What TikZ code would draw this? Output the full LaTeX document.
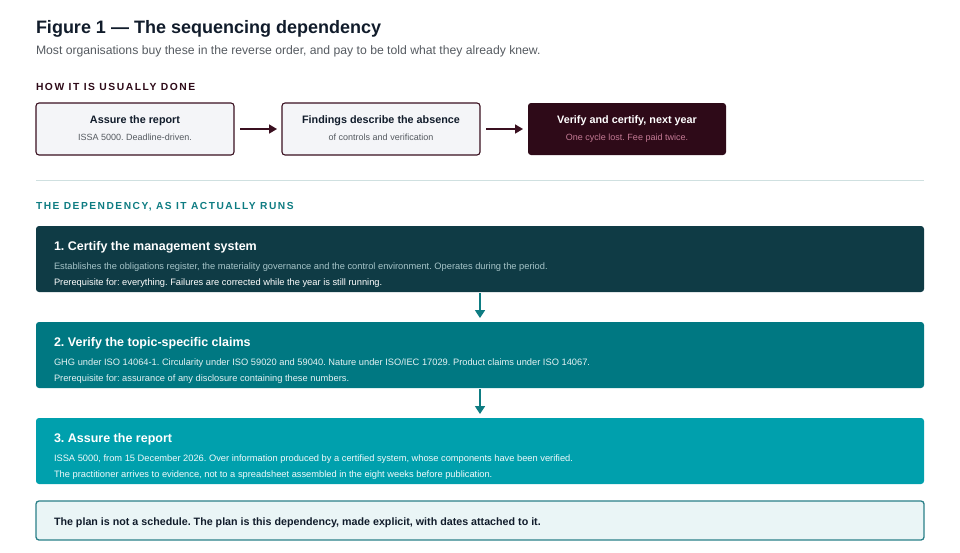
\documentclass[tikz,border=0pt]{standalone}
\usepackage{fontspec}
\setmainfont{Liberation Sans}
\newfontfamily\spacedfont[LetterSpace=15]{Liberation Sans}
\usetikzlibrary{arrows.meta}
\frenchspacing
\definecolor{ink}{HTML}{111C2B}
\definecolor{subgray}{HTML}{555A60}
\definecolor{maroon}{HTML}{2E0A18}
\definecolor{maroonline}{HTML}{3A1020}
\definecolor{pinktext}{HTML}{C47A95}
\definecolor{tealhead}{HTML}{0E7C82}
\definecolor{fillA}{HTML}{0F3B45}
\definecolor{fillB}{HTML}{007882}
\definecolor{fillC}{HTML}{00A0AD}
\definecolor{fillD}{HTML}{EAF5F6}
\definecolor{borderD}{HTML}{2A8088}
\definecolor{sepline}{HTML}{CFE0E0}
\definecolor{lightbox}{HTML}{F4F5F8}
\definecolor{lineA}{HTML}{A6C4C8}
\definecolor{lineB}{HTML}{E4F2F3}
\definecolor{lineC}{HTML}{F0FAFB}
\definecolor{boxsub}{HTML}{555A60}
\tikzset{
  txt/.style={anchor=base west, inner sep=0pt, outer sep=0pt},
  ctxt/.style={anchor=base, inner sep=0pt, outer sep=0pt},
  lightstep/.style={draw=maroonline, line width=1.1pt, fill=lightbox, rounded corners=3pt},
  darkstep/.style={fill=maroon, rounded corners=3pt},
  band/.style={rounded corners=3pt},
  harrow/.style={draw=maroonline, line width=1.7pt, -{Triangle[length=8pt,width=9pt]}},
  varrow/.style={draw=tealhead, line width=1.7pt, -{Triangle[length=8pt,width=10pt]}},
}
\begin{document}
\begin{tikzpicture}[x=1pt,y=-1pt]
\useasboundingbox (0,0) rectangle (960,552);
% header
\node[txt, text=ink, font=\fontsize{18}{20}\selectfont\bfseries] (title) at (36,33) {Figure 1 — The sequencing dependency};
\node[txt, text=subgray, font=\fontsize{12.2}{14}\selectfont] (subtitle) at (36,54) {Most organisations buy these in the reverse order, and pay to be told what they already knew.};
\node[txt, text=maroon, font=\fontsize{10.3}{12}\selectfont\spacedfont\bfseries] (head1) at (36,90) {HOW IT IS USUALLY DONE};
% usual boxes
\path[lightstep] (36,103) rectangle (234,155);
\node (u1) at (135,129) {};
\node[ctxt, text=ink, font=\fontsize{10.8}{13}\selectfont\bfseries] (u1t) at (135,123.5) {Assure the report};
\node[ctxt, text=boxsub, font=\fontsize{9}{11}\selectfont] (u1s) at (135,140) {ISSA 5000. Deadline-driven.};
\path[lightstep] (282,103) rectangle (480,155);
\node (u2) at (381,129) {};
\node[ctxt, text=ink, font=\fontsize{10.8}{13}\selectfont\bfseries] (u2t) at (381,123.5) {Findings describe the absence};
\node[ctxt, text=boxsub, font=\fontsize{9}{11}\selectfont] (u2s) at (381,140) {of controls and verification};
\path[darkstep] (528,103) rectangle (726,155);
\node (u3) at (627,129) {};
\node[ctxt, text=white, font=\fontsize{10.8}{13}\selectfont\bfseries] (u3t) at (627,123.5) {Verify and certify, next year};
\node[ctxt, text=pinktext, font=\fontsize{9}{11}\selectfont] (u3s) at (627,140) {One cycle lost. Fee paid twice.};
\coordinate (a1s) at (240,129);
\coordinate (a1e) at (277,129);
\coordinate (a2s) at (486,129);
\coordinate (a2e) at (523,129);
\draw[harrow] (a1s) -- (a1e);
\draw[harrow] (a2s) -- (a2e);
% separator
\coordinate (sepL) at (36,180);
\coordinate (sepR) at (924,180);
\draw[sepline, line width=1pt] (sepL) -- (sepR);
\node[txt, text=tealhead, font=\fontsize{10.2}{12}\selectfont\spacedfont\bfseries] (head2) at (36,209) {THE DEPENDENCY, AS IT ACTUALLY RUNS};
% band A
\path[band, fill=fillA] (36,226) rectangle (924,292);
\node[txt, text=white, font=\fontsize{12.5}{14}\selectfont\bfseries] (At) at (54,250) {1. Certify the management system};
\node[txt, text=lineA, font=\fontsize{9.3}{11}\selectfont] (A1) at (54,269.5) {Establishes the obligations register, the materiality governance and the control environment. Operates during the period.};
\node[txt, text=white, font=\fontsize{9.3}{11}\selectfont] (A2) at (54,285) {Prerequisite for: everything. Failures are corrected while the year is still running.};
% band B
\path[band, fill=fillB] (36,322) rectangle (924,388);
\node[txt, text=white, font=\fontsize{12.5}{14}\selectfont\bfseries] (Bt) at (54,346) {2. Verify the topic-specific claims};
\node[txt, text=lineB, font=\fontsize{9.3}{11}\selectfont] (B1) at (54,365.5) {GHG under ISO 14064-1. Circularity under ISO 59020 and 59040. Nature under ISO/IEC 17029. Product claims under ISO 14067.};
\node[txt, text=lineB, font=\fontsize{9.3}{11}\selectfont] (B2) at (54,381) {Prerequisite for: assurance of any disclosure containing these numbers.};
% band C
\path[band, fill=fillC] (36,418) rectangle (924,484);
\node[txt, text=white, font=\fontsize{12.5}{14}\selectfont\bfseries] (Ct) at (54,442) {3. Assure the report};
\node[txt, text=lineC, font=\fontsize{9.3}{11}\selectfont] (C1) at (54,461.5) {ISSA 5000, from 15 December 2026. Over information produced by a certified system, whose components have been verified.};
\node[txt, text=lineC, font=\fontsize{9.3}{11}\selectfont] (C2) at (54,477) {The practitioner arrives to evidence, not to a spreadsheet assembled in the eight weeks before publication.};
% vertical arrows
\coordinate (v1s) at (480,293);
\coordinate (v1e) at (480,318);
\coordinate (v2s) at (480,389);
\coordinate (v2e) at (480,414);
\draw[varrow] (v1s) -- (v1e);
\draw[varrow] (v2s) -- (v2e);
% band D
\path[band, draw=borderD, line width=1.3pt, fill=fillD] (36,501) rectangle (924,540);
\node[txt, text=ink, font=\fontsize{10.7}{13}\selectfont\bfseries] (Dt) at (54,525) {The plan is not a schedule. The plan is this dependency, made explicit, with dates attached to it.};
\end{tikzpicture}
\end{document}
